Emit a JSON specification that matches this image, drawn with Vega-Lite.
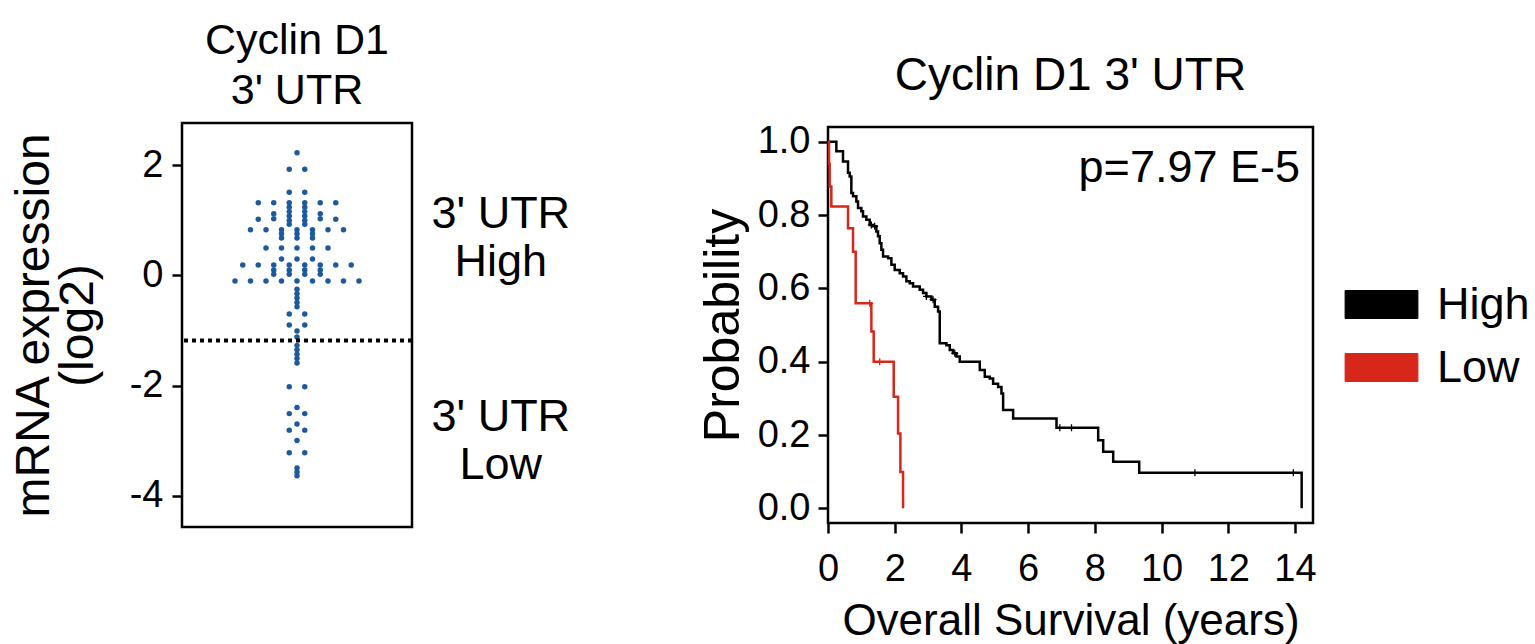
{
  "$schema": "https://vega.github.io/schema/vega-lite/v6.json",
  "background": "white",
  "autosize": {"type": "pad"},
  "padding": {"left": 8, "top": 18, "right": 3, "bottom": 0},
  "bounds": "flush",
  "center": true,
  "spacing": 416,
  "config": {
    "font": "Liberation Sans",
    "view": {"stroke": "black", "strokeWidth": 2.5},
    "axis": {
      "grid": false,
      "domain": false,
      "tickColor": "black",
      "tickWidth": 2.5,
      "tickSize": 10,
      "labelColor": "black",
      "labelFont": "Liberation Sans",
      "labelFontSize": 38,
      "labelFlush": false,
      "labelOverlap": false,
      "titleColor": "black",
      "titleFont": "Liberation Sans",
      "titleFontWeight": "normal"
    },
    "title": {"color": "black", "font": "Liberation Sans", "fontWeight": "normal"}
  },
  "hconcat": [
    {
      "width": 230,
      "height": 404,
      "title": {"text": ["Cyclin D1", "3' UTR"], "fontSize": 43, "lineHeight": 50, "offset": 10, "anchor": "middle"},
      "layer": [
        {
          "data": {
            "values": [
              {"slot": 0, "expr": 2.23},
              {"slot": -1, "expr": 1.93}, {"slot": 1, "expr": 1.93},
              {"slot": -1, "expr": 1.51}, {"slot": 1, "expr": 1.51},
              {"slot": -5, "expr": 1.32}, {"slot": -3, "expr": 1.32}, {"slot": -1, "expr": 1.32}, {"slot": 1, "expr": 1.32}, {"slot": 3, "expr": 1.32}, {"slot": 5, "expr": 1.32},
              {"slot": -1, "expr": 1.24}, {"slot": 1, "expr": 1.24},
              {"slot": -1, "expr": 1.16}, {"slot": 1, "expr": 1.16},
              {"slot": -1, "expr": 1.08}, {"slot": 1, "expr": 1.08},
              {"slot": -1, "expr": 1.0}, {"slot": 1, "expr": 1.0},
              {"slot": -1, "expr": 0.93}, {"slot": 1, "expr": 0.93},
              {"slot": -3, "expr": 1.12}, {"slot": 3, "expr": 1.12},
              {"slot": -3, "expr": 1.03}, {"slot": 3, "expr": 1.03},
              {"slot": -5, "expr": 1.02}, {"slot": 5, "expr": 1.02},
              {"slot": -6, "expr": 0.83}, {"slot": -4, "expr": 0.83}, {"slot": -2, "expr": 0.83}, {"slot": 0, "expr": 0.83}, {"slot": 2, "expr": 0.83}, {"slot": 4, "expr": 0.83}, {"slot": 6, "expr": 0.83},
              {"slot": -2, "expr": 0.76}, {"slot": 0, "expr": 0.76}, {"slot": 2, "expr": 0.76},
              {"slot": -2, "expr": 0.68}, {"slot": 0, "expr": 0.68}, {"slot": 2, "expr": 0.68},
              {"slot": -4, "expr": 0.5}, {"slot": -2, "expr": 0.5}, {"slot": 0, "expr": 0.5}, {"slot": 2, "expr": 0.5}, {"slot": 4, "expr": 0.5},
              {"slot": -2, "expr": 0.3}, {"slot": 0, "expr": 0.3}, {"slot": 2, "expr": 0.3},
              {"slot": -7, "expr": 0.19}, {"slot": -5, "expr": 0.19}, {"slot": -3, "expr": 0.19}, {"slot": -1, "expr": 0.19}, {"slot": 1, "expr": 0.19}, {"slot": 3, "expr": 0.19}, {"slot": 5, "expr": 0.19}, {"slot": 7, "expr": 0.19},
              {"slot": -3, "expr": 0.1}, {"slot": -1, "expr": 0.1}, {"slot": 1, "expr": 0.1}, {"slot": 3, "expr": 0.1},
              {"slot": -3, "expr": 0.02}, {"slot": -1, "expr": 0.02}, {"slot": 1, "expr": 0.02}, {"slot": 3, "expr": 0.02},
              {"slot": -8, "expr": -0.1}, {"slot": -6, "expr": -0.1}, {"slot": -4, "expr": -0.1}, {"slot": -2, "expr": -0.1}, {"slot": 0, "expr": -0.1}, {"slot": 2, "expr": -0.1}, {"slot": 4, "expr": -0.1}, {"slot": 6, "expr": -0.1}, {"slot": 8, "expr": -0.1},
              {"slot": 0, "expr": -0.25}, {"slot": 0, "expr": -0.33}, {"slot": 0, "expr": -0.41}, {"slot": 0, "expr": -0.49}, {"slot": 0, "expr": -0.57},
              {"slot": -1, "expr": -0.7}, {"slot": 1, "expr": -0.7},
              {"slot": -1, "expr": -0.9}, {"slot": 1, "expr": -0.9},
              {"slot": 0, "expr": -1.01},
              {"slot": 0, "expr": -1.12},
              {"slot": 0, "expr": -1.27}, {"slot": 0, "expr": -1.35}, {"slot": 0, "expr": -1.43}, {"slot": 0, "expr": -1.51}, {"slot": 0, "expr": -1.59},
              {"slot": -1, "expr": -2.02}, {"slot": 1, "expr": -2.02},
              {"slot": 0, "expr": -2.4},
              {"slot": -1, "expr": -2.51}, {"slot": 1, "expr": -2.51},
              {"slot": 0, "expr": -2.7},
              {"slot": -1, "expr": -2.81}, {"slot": 1, "expr": -2.81},
              {"slot": 0, "expr": -3.0},
              {"slot": -1, "expr": -3.22}, {"slot": 1, "expr": -3.22},
              {"slot": 0, "expr": -3.5}, {"slot": 0, "expr": -3.57}, {"slot": 0, "expr": -3.64}
            ]
          },
          "mark": {"type": "point", "filled": true, "size": 30, "color": "#1c5a9c", "opacity": 1},
          "encoding": {
            "x": {"field": "slot", "type": "quantitative", "scale": {"domain": [-14.84, 14.84], "nice": false, "zero": false}, "axis": null},
            "y": {
              "field": "expr", "type": "quantitative",
              "scale": {"domain": [-4.57, 2.77], "nice": false, "zero": false},
              "axis": {
                "values": [-4, -2, 0, 2],
                "labelExpr": "datum.value < 0 ? '-' + (-datum.value) : '' + datum.value",
                "labelPadding": 9,
                "title": ["mRNA expression", "(log2)"], "titleFontSize": 48, "titleLineHeight": 44, "titlePadding": 27
              }
            }
          }
        },
        {
          "data": {"values": [{"cutoff": -1.18}]},
          "mark": {"type": "rule", "color": "black", "strokeWidth": 4, "strokeDash": [4, 4]},
          "encoding": {"y": {"field": "cutoff", "type": "quantitative"}}
        },
        {
          "data": {"values": [{"label": "3' UTR\nHigh"}]},
          "mark": {"type": "text", "lineBreak": "\n", "fontSize": 45, "lineHeight": 48, "align": "center", "baseline": "alphabetic", "color": "black"},
          "encoding": {
            "x": {"datum": 26.3, "type": "quantitative"},
            "y": {"datum": 0.86, "type": "quantitative"},
            "text": {"field": "label"}
          }
        },
        {
          "data": {"values": [{"label": "3' UTR\nLow"}]},
          "mark": {"type": "text", "lineBreak": "\n", "fontSize": 45, "lineHeight": 48, "align": "center", "baseline": "alphabetic", "color": "black"},
          "encoding": {
            "x": {"datum": 26.3, "type": "quantitative"},
            "y": {"datum": -2.83, "type": "quantitative"},
            "text": {"field": "label"}
          }
        }
      ]
    },
    {
      "width": 485,
      "height": 396,
      "title": {"text": "Cyclin D1 3' UTR", "fontSize": 46, "offset": 23, "anchor": "middle"},
      "layer": [
        {
          "data": {
            "values": [
              {"group": "High", "years": 0, "survival": 1.0},
              {"group": "High", "years": 0.25, "survival": 0.974},
              {"group": "High", "years": 0.45, "survival": 0.946},
              {"group": "High", "years": 0.6, "survival": 0.915},
              {"group": "High", "years": 0.65, "survival": 0.905},
              {"group": "High", "years": 0.7, "survival": 0.86},
              {"group": "High", "years": 0.75, "survival": 0.851},
              {"group": "High", "years": 0.85, "survival": 0.837},
              {"group": "High", "years": 0.9, "survival": 0.819},
              {"group": "High", "years": 1.0, "survival": 0.81},
              {"group": "High", "years": 1.05, "survival": 0.796},
              {"group": "High", "years": 1.15, "survival": 0.787},
              {"group": "High", "years": 1.25, "survival": 0.773},
              {"group": "High", "years": 1.35, "survival": 0.769},
              {"group": "High", "years": 1.45, "survival": 0.755},
              {"group": "High", "years": 1.5, "survival": 0.742},
              {"group": "High", "years": 1.55, "survival": 0.723},
              {"group": "High", "years": 1.6, "survival": 0.705},
              {"group": "High", "years": 1.65, "survival": 0.687},
              {"group": "High", "years": 1.8, "survival": 0.682},
              {"group": "High", "years": 1.9, "survival": 0.664},
              {"group": "High", "years": 2.0, "survival": 0.65},
              {"group": "High", "years": 2.15, "survival": 0.641},
              {"group": "High", "years": 2.25, "survival": 0.632},
              {"group": "High", "years": 2.35, "survival": 0.619},
              {"group": "High", "years": 2.45, "survival": 0.614},
              {"group": "High", "years": 2.55, "survival": 0.605},
              {"group": "High", "years": 2.75, "survival": 0.596},
              {"group": "High", "years": 2.85, "survival": 0.587},
              {"group": "High", "years": 2.95, "survival": 0.578},
              {"group": "High", "years": 3.1, "survival": 0.569},
              {"group": "High", "years": 3.2, "survival": 0.55},
              {"group": "High", "years": 3.3, "survival": 0.537},
              {"group": "High", "years": 3.35, "survival": 0.45},
              {"group": "High", "years": 3.55, "survival": 0.445},
              {"group": "High", "years": 3.65, "survival": 0.432},
              {"group": "High", "years": 3.75, "survival": 0.423},
              {"group": "High", "years": 3.85, "survival": 0.414},
              {"group": "High", "years": 3.95, "survival": 0.4},
              {"group": "High", "years": 4.55, "survival": 0.377},
              {"group": "High", "years": 4.7, "survival": 0.359},
              {"group": "High", "years": 4.85, "survival": 0.354},
              {"group": "High", "years": 4.95, "survival": 0.34},
              {"group": "High", "years": 5.1, "survival": 0.331},
              {"group": "High", "years": 5.2, "survival": 0.313},
              {"group": "High", "years": 5.25, "survival": 0.268},
              {"group": "High", "years": 5.55, "survival": 0.245},
              {"group": "High", "years": 6.85, "survival": 0.22},
              {"group": "High", "years": 8.1, "survival": 0.186},
              {"group": "High", "years": 8.25, "survival": 0.154},
              {"group": "High", "years": 8.55, "survival": 0.127},
              {"group": "High", "years": 9.33, "survival": 0.097},
              {"group": "High", "years": 14.2, "survival": 0.0},
              {"group": "Low", "years": 0, "survival": 1.0},
              {"group": "Low", "years": 0.03, "survival": 0.94},
              {"group": "Low", "years": 0.05, "survival": 0.878},
              {"group": "Low", "years": 0.1, "survival": 0.823},
              {"group": "Low", "years": 0.6, "survival": 0.764},
              {"group": "Low", "years": 0.75, "survival": 0.7},
              {"group": "Low", "years": 0.83, "survival": 0.559},
              {"group": "Low", "years": 1.3, "survival": 0.482},
              {"group": "Low", "years": 1.37, "survival": 0.4},
              {"group": "Low", "years": 1.97, "survival": 0.304},
              {"group": "Low", "years": 2.1, "survival": 0.204},
              {"group": "Low", "years": 2.17, "survival": 0.099},
              {"group": "Low", "years": 2.25, "survival": 0.0}
            ]
          },
          "mark": {"type": "line", "interpolate": "step-after", "strokeWidth": 2.5},
          "encoding": {
            "x": {
              "field": "years", "type": "quantitative",
              "scale": {"domain": [0, 14.54], "nice": false, "zero": false},
              "axis": {"values": [0, 2, 4, 6, 8, 10, 12, 14], "labelPadding": 17, "title": "Overall Survival (years)", "titleFontSize": 44, "titlePadding": 11}
            },
            "y": {
              "field": "survival", "type": "quantitative",
              "scale": {"domain": [-0.04, 1.04], "nice": false, "zero": false},
              "axis": {"values": [0, 0.2, 0.4, 0.6, 0.8, 1.0], "format": ".1f", "labelPadding": 8, "title": "Probability", "titleFontSize": 50, "titlePadding": 9}
            },
            "color": {
              "field": "group", "type": "nominal",
              "scale": {"domain": ["High", "Low"], "range": ["black", "#d7261a"]},
              "legend": {
                "orient": "none", "legendX": 1171, "legendY": 153, "title": null,
                "symbolType": "M-1.3,-0.5H1.3V0.5H-1.3Z", "symbolSize": 3136, "symbolStrokeWidth": 1, "symbolOpacity": 1,
                "labelFont": "Liberation Sans", "labelFontSize": 45, "labelColor": "black",
                "labelOffset": 27, "rowPadding": 11,
                "encode": {"symbols": {"update": {"fill": {"scale": "color", "field": "value"}, "fillOpacity": {"value": 1}}}}
              }
            }
          }
        },
        {
          "data": {
            "values": [
              {"group": "High", "years": 1.3, "survival": 0.773},
              {"group": "High", "years": 1.4, "survival": 0.769},
              {"group": "High", "years": 2.95, "survival": 0.578},
              {"group": "High", "years": 3.15, "survival": 0.569},
              {"group": "High", "years": 3.8, "survival": 0.423},
              {"group": "High", "years": 6.95, "survival": 0.22},
              {"group": "High", "years": 7.3, "survival": 0.22},
              {"group": "High", "years": 11.0, "survival": 0.097},
              {"group": "High", "years": 13.95, "survival": 0.097},
              {"group": "Low", "years": 1.25, "survival": 0.559},
              {"group": "Low", "years": 1.55, "survival": 0.4}
            ]
          },
          "mark": {"type": "point", "shape": "M-1,0H1M0,-1V1", "filled": false, "size": 49, "strokeWidth": 1.3, "opacity": 1},
          "encoding": {
            "x": {"field": "years", "type": "quantitative"},
            "y": {"field": "survival", "type": "quantitative"},
            "stroke": {"field": "group", "type": "nominal", "scale": {"domain": ["High", "Low"], "range": ["black", "#d7261a"]}, "legend": null}
          }
        },
        {
          "data": {"values": [{"label": "p=7.97 E-5"}]},
          "mark": {"type": "text", "fontSize": 45, "align": "right", "baseline": "alphabetic", "color": "black"},
          "encoding": {
            "x": {"datum": 14.15, "type": "quantitative"},
            "y": {"datum": 0.89, "type": "quantitative"},
            "text": {"field": "label"}
          }
        }
      ]
    }
  ]
}
